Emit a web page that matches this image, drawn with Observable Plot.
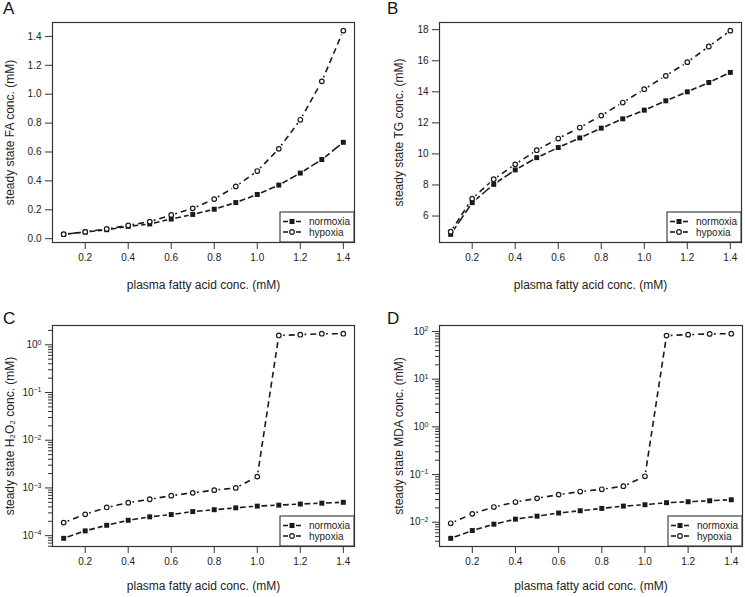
<!DOCTYPE html>
<html><head><meta charset="utf-8">
<script src="https://cdn.jsdelivr.net/npm/d3@7"></script>
<script src="https://cdn.jsdelivr.net/npm/@observablehq/plot@0.6"></script>
<style>
body{margin:0;background:#fff;}
#wrap{position:relative;width:745px;height:597px;font-family:"Liberation Sans",Arial,sans-serif;background:#fff;}
.panel{position:absolute;}
.letter{position:absolute;font-size:17px;line-height:17px;color:#111;}
</style></head><body><div id="wrap"></div>
<script>
// ---- data ----
const fattyAcid = [0.1,0.2,0.3,0.4,0.5,0.6,0.7,0.8,0.9,1.0,1.1,1.2,1.3,1.4];
const seriesNames = ["normoxia","hypoxia"];
const faNormoxia = [0.030,0.046,0.062,0.085,0.102,0.136,0.168,0.204,0.250,0.306,0.371,0.454,0.548,0.667];
const faHypoxia  = [0.031,0.047,0.067,0.092,0.118,0.164,0.210,0.274,0.362,0.468,0.622,0.823,1.089,1.440];
const tgNormoxia = [4.82,6.86,8.04,8.97,9.76,10.41,11.03,11.66,12.26,12.82,13.42,14.00,14.60,15.25];
const tgHypoxia  = [4.99,7.12,8.37,9.33,10.24,10.99,11.70,12.47,13.31,14.17,15.03,15.91,16.92,17.94];
const h2o2Normoxia = [8.8e-5,1.26e-4,1.65e-4,2.1e-4,2.48e-4,2.77e-4,3.2e-4,3.5e-4,3.83e-4,4.16e-4,4.36e-4,4.6e-4,4.8e-4,5.0e-4];
const h2o2Hypoxia  = [1.88e-4,2.8e-4,3.9e-4,4.9e-4,5.8e-4,6.9e-4,7.9e-4,9.0e-4,1.0e-3,1.73e-3,1.57,1.63,1.71,1.71];
const mdaNormoxia = [4.6e-3,6.7e-3,9.1e-3,1.16e-2,1.34e-2,1.56e-2,1.74e-2,1.95e-2,2.18e-2,2.33e-2,2.57e-2,2.69e-2,2.82e-2,2.96e-2];
const mdaHypoxia  = [9.5e-3,1.5e-2,2.08e-2,2.65e-2,3.17e-2,3.8e-2,4.4e-2,4.9e-2,5.7e-2,9.2e-2,82,86,89,90];
const xTicks = [0.2,0.4,0.6,0.8,1.0,1.2,1.4];
const faTicks = [0.0,0.2,0.4,0.6,0.8,1.0,1.2,1.4];
const tgTicks = [6,8,10,12,14,16,18];
const h2o2Ticks = [1e-4,1e-3,1e-2,1e-1,1];
const mdaTicks = [1e-2,1e-1,1,10,100];
const panelLetters = ["A","B","C","D"];
const xTitle = "plasma fatty acid conc. (mM)";
const yTitles = ["steady state FA conc. (mM)","steady state TG conc. (mM)","steady state H\u2082O\u2082 conc. (mM)","steady state MDA conc. (mM)"];

// ---- helpers ----
const pow10Label = v => "10^" + Math.round(Math.log10(v));
function padLinear(vals){const [a,b]=d3.extent(vals);const p=(b-a)*0.04;return [a-p,b+p];}
function padLog(vals){const [a,b]=d3.extent(vals).map(Math.log10);const p=(b-a)*0.04;return [10**(a-p),10**(b+p)];}
function minorLogTicks(dom){const out=[];for(let e=Math.floor(Math.log10(dom[0]));e<=Math.ceil(Math.log10(dom[1]));e++)for(let m=2;m<=9;m++){const v=m*10**e;if(v>=dom[0]&&v<=dom[1])out.push(v);}return out;}

const panels = [
  {left:0,  top:0,   width:372, height:298, margin:{top:22,right:18,bottom:56,left:52}, normoxia:faNormoxia, hypoxia:faHypoxia, type:"linear", ticks:faTicks, format:d3.format(".1f"), letterPos:[3,0], titleDx:-42},
  {left:372,top:0,   width:373, height:298, margin:{top:22,right:4,bottom:56,left:67}, normoxia:tgNormoxia, hypoxia:tgHypoxia, type:"linear", ticks:tgTicks, format:d3.format("d"), letterPos:[15,0], titleDx:-40},
  {left:0,  top:298, width:372, height:299, margin:{top:27,right:18,bottom:51,left:52}, normoxia:h2o2Normoxia, hypoxia:h2o2Hypoxia, type:"log", ticks:h2o2Ticks, format:pow10Label, letterPos:[3,12], titleDx:-42},
  {left:372,top:298, width:373, height:299, margin:{top:27,right:3,bottom:51,left:67}, normoxia:mdaNormoxia, hypoxia:mdaHypoxia, type:"log", ticks:mdaTicks, format:pow10Label, letterPos:[15,12], titleDx:-40}
];

const wrap = document.getElementById("wrap");
const ink = "#1a1a1a";

panels.forEach((p, k) => {
  const data = {normoxia: p.normoxia, hypoxia: p.hypoxia};
  const pts = s => fattyAcid.map((x,i) => ({series:s, x, y:data[s][i]}));
  const segs = s => d3.pairs(pts(s)).map(([a,b]) => ({x1:a.x,y1:a.y,x2:b.x,y2:b.y}));
  const allY = [...p.normoxia, ...p.hypoxia];
  const yDomain = p.type === "log" ? padLog(allY) : padLinear(allY);
  const marks = [
    Plot.link(segs("normoxia"), {x1:"x1",y1:"y1",x2:"x2",y2:"y2", stroke:ink, strokeWidth:1.6, strokeDasharray:"10,3"}),
    Plot.link(segs("hypoxia"), {x1:"x1",y1:"y1",x2:"x2",y2:"y2", stroke:ink, strokeWidth:1.6, strokeDasharray:"6,4"}),
    Plot.dot([...pts("normoxia"), ...pts("hypoxia")], {x:"x", y:"y", r:4.3, fill:"white", stroke:null}),
    Plot.dot(pts("normoxia"), {x:"x", y:"y", symbol:"square", r:2.8, fill:ink, stroke:null}),
    Plot.dot(pts("hypoxia"), {x:"x", y:"y", symbol:"circle", r:2.3, fill:"white", stroke:ink, strokeWidth:1.2}),
    Plot.frame({stroke:"#333", strokeWidth:1.2}),
    Plot.axisX({ticks:xTicks, tickSize:7, tickPadding:4, tickFormat:d3.format(".1f"), fontSize:10, label:null, stroke:"#333", fill:"#222"}),
    Plot.axisY({ticks:p.ticks, tickSize:7, tickPadding:4, tickFormat:p.format, fontSize:10, label:null, stroke:"#333", fill:"#222"}),
    Plot.text([xTitle], {frameAnchor:"bottom", dy: p.margin.bottom === 56 ? 43 : 40, fontSize:12, fill:"#222", lineAnchor:"middle", textAnchor:"middle"}),
    Plot.text([yTitles[k]], {frameAnchor:"left", dx: p.titleDx, rotate:-90, fontSize:12, fill:"#222", lineAnchor:"middle", textAnchor:"middle"})
  ];
  if (p.type === "log") {
    marks.push(Plot.axisY({ticks:minorLogTicks(yDomain), tickSize:4, tickFormat:() => "", label:null, stroke:"#333"}));
  }
  const svg = Plot.plot({
    width:p.width, height:p.height,
    marginTop:p.margin.top, marginRight:p.margin.right, marginBottom:p.margin.bottom, marginLeft:p.margin.left,
    style:{fontFamily:'"Liberation Sans", Arial, sans-serif', background:"white", color:"#222", overflow:"visible"},
    x:{type:"linear", domain:padLinear(fattyAcid)},
    y:{type:p.type, domain:yDomain},
    marks
  });
  // power-of-ten tick labels: "10" with a raised exponent
  d3.select(svg).selectAll("text").each(function() {
    const t = this.textContent;
    const m = /^10\^(-?\d+)$/.exec(t);
    if (!m) return;
    const sel = d3.select(this);
    sel.text(null);
    sel.append("tspan").text("10");
    sel.append("tspan").attr("font-size", 7).attr("dy", "-0.5em").text(m[1].replace("-", "\u2212"));
  });
  // legend box in lower-right corner
  const right = p.width - p.margin.right, bottom = p.height - p.margin.bottom;
  const lw = 74, lh = 30, lx = right - lw, ly = bottom - lh;
  const g = d3.select(svg).append("g").attr("font-family",'"Liberation Sans", Arial, sans-serif').attr("text-anchor","start");
  g.append("rect").attr("x",lx).attr("y",ly).attr("width",lw).attr("height",lh).attr("fill","white").attr("stroke","#333").attr("stroke-width",1.1);
  seriesNames.forEach((s,i) => {
    const cy = ly + 9.5 + i*10.5, sx = lx + 12;
    g.append("line").attr("x1",lx+3).attr("x2",lx+8).attr("y1",cy).attr("y2",cy).attr("stroke",ink).attr("stroke-width",1.6);
    g.append("line").attr("x1",lx+16).attr("x2",lx+21).attr("y1",cy).attr("y2",cy).attr("stroke",ink).attr("stroke-width",1.6);
    if (s === "normoxia") g.append("rect").attr("x",sx-2.5).attr("y",cy-2.5).attr("width",5).attr("height",5).attr("fill",ink);
    else g.append("circle").attr("cx",sx).attr("cy",cy).attr("r",2.3).attr("fill","white").attr("stroke",ink).attr("stroke-width",1.2);
    g.append("text").attr("x",lx+29).attr("y",cy).attr("dy","0.35em").attr("text-anchor","start").attr("font-size",10).attr("fill","#222").text(s);
  });
  const div = document.createElement("div");
  div.className = "panel";
  div.style.left = p.left + "px"; div.style.top = p.top + "px";
  div.appendChild(svg);
  wrap.appendChild(div);
  const letter = document.createElement("div");
  letter.className = "letter";
  letter.style.left = (p.left + p.letterPos[0]) + "px";
  letter.style.top = (p.top + p.letterPos[1]) + "px";
  letter.textContent = panelLetters[k];
  wrap.appendChild(letter);
});
</script></body></html>
